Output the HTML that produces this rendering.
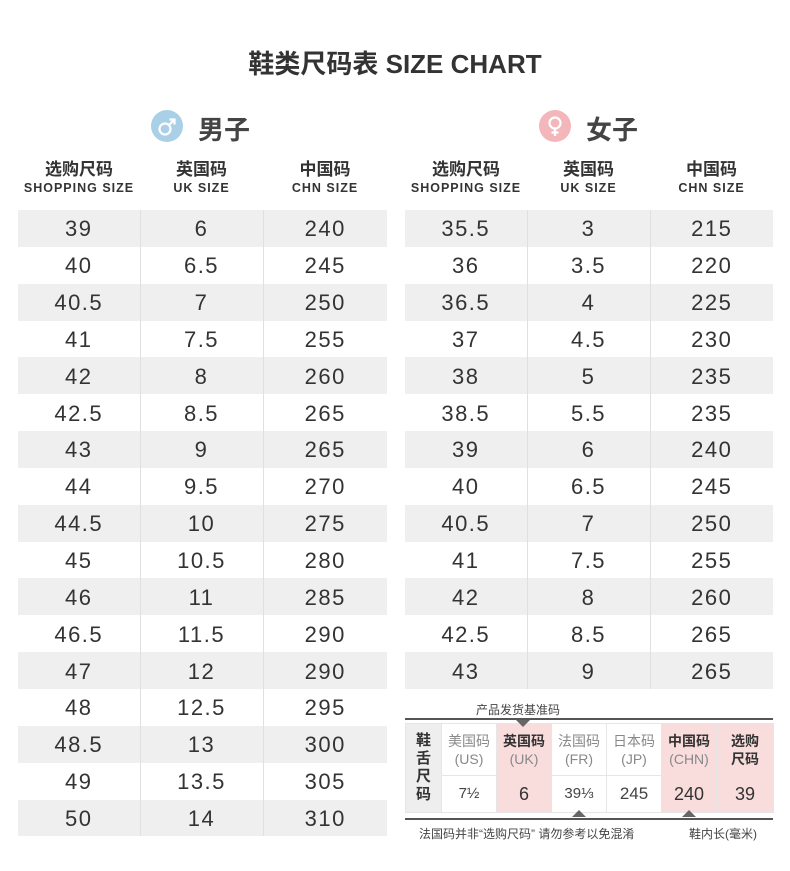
<!DOCTYPE html>
<html><head><meta charset="utf-8"><style>
*{margin:0;padding:0;box-sizing:border-box}
body{width:790px;height:871px;background:#fff;position:relative;font-family:"Liberation Sans","Noto Sans CJK SC",sans-serif;color:#333;overflow:hidden}
.abs{position:absolute}
.title{left:0;width:790px;top:44px;text-align:center;font-size:26px;font-weight:bold;color:#333}
.hd{text-align:center;font-weight:bold;color:#333}
.hd .c{font-size:17px;line-height:20px}
.hd .e{font-size:12.5px;letter-spacing:1px;line-height:16px}
table.t{position:absolute;border-collapse:collapse;table-layout:fixed}
table.t td{height:36.85px;text-align:center;font-size:22px;letter-spacing:1.5px;color:#333;border-right:1px solid #e0e0e0;padding-top:2px}
table.t tr:nth-child(odd) td{background:#efefef}
table.t td:last-child{border-right:none}
.b td{border:1px solid #e6e6e6;text-align:center;color:#888;font-size:14px;line-height:18px}
.p{background:#f9dcdc}
.tri{z-index:5}
</style></head><body>
<div class="abs title">鞋类尺码表 SIZE CHART</div>

<svg class="abs" style="left:150px;top:109px" width="34" height="34"><circle cx="17" cy="17" r="16" fill="#a9d0e7"/><circle cx="15" cy="20" r="5.5" fill="none" stroke="#fff" stroke-width="2.2"/><path d="M19 16 L24 11 M19.5 10.5 H24.5 V15.5" stroke="#fff" stroke-width="2.2" fill="none"/></svg>
<div class="abs" style="left:198px;top:110px;font-size:26px;font-weight:bold;color:#444">男子</div>
<svg class="abs" style="left:538px;top:109px" width="34" height="34"><circle cx="17" cy="17" r="16" fill="#f3b7bb"/><circle cx="17" cy="14" r="5.5" fill="none" stroke="#fff" stroke-width="2.2"/><path d="M17 19.5 V27 M13.5 23.5 H20.5" stroke="#fff" stroke-width="2.2"/></svg>
<div class="abs" style="left:586px;top:110px;font-size:26px;font-weight:bold;color:#444">女子</div>

<div class="abs hd" style="left:18px;width:122px;top:160px"><div class="c">选购尺码</div><div class="e">SHOPPING SIZE</div></div>
<div class="abs hd" style="left:140px;width:123px;top:160px"><div class="c">英国码</div><div class="e">UK SIZE</div></div>
<div class="abs hd" style="left:263px;width:124px;top:160px"><div class="c">中国码</div><div class="e">CHN SIZE</div></div>
<div class="abs hd" style="left:405px;width:122px;top:160px"><div class="c">选购尺码</div><div class="e">SHOPPING SIZE</div></div>
<div class="abs hd" style="left:527px;width:123px;top:160px"><div class="c">英国码</div><div class="e">UK SIZE</div></div>
<div class="abs hd" style="left:650px;width:123px;top:160px"><div class="c">中国码</div><div class="e">CHN SIZE</div></div>

<table class="t" style="left:18px;top:210px;width:369px">
<colgroup><col style="width:122px"><col style="width:123px"><col style="width:124px"></colgroup>
<tr><td>39</td><td>6</td><td>240</td></tr>
<tr><td>40</td><td>6.5</td><td>245</td></tr>
<tr><td>40.5</td><td>7</td><td>250</td></tr>
<tr><td>41</td><td>7.5</td><td>255</td></tr>
<tr><td>42</td><td>8</td><td>260</td></tr>
<tr><td>42.5</td><td>8.5</td><td>265</td></tr>
<tr><td>43</td><td>9</td><td>265</td></tr>
<tr><td>44</td><td>9.5</td><td>270</td></tr>
<tr><td>44.5</td><td>10</td><td>275</td></tr>
<tr><td>45</td><td>10.5</td><td>280</td></tr>
<tr><td>46</td><td>11</td><td>285</td></tr>
<tr><td>46.5</td><td>11.5</td><td>290</td></tr>
<tr><td>47</td><td>12</td><td>290</td></tr>
<tr><td>48</td><td>12.5</td><td>295</td></tr>
<tr><td>48.5</td><td>13</td><td>300</td></tr>
<tr><td>49</td><td>13.5</td><td>305</td></tr>
<tr><td>50</td><td>14</td><td>310</td></tr>
</table>

<table class="t" style="left:405px;top:210px;width:368px">
<colgroup><col style="width:122px"><col style="width:123px"><col style="width:123px"></colgroup>
<tr><td>35.5</td><td>3</td><td>215</td></tr>
<tr><td>36</td><td>3.5</td><td>220</td></tr>
<tr><td>36.5</td><td>4</td><td>225</td></tr>
<tr><td>37</td><td>4.5</td><td>230</td></tr>
<tr><td>38</td><td>5</td><td>235</td></tr>
<tr><td>38.5</td><td>5.5</td><td>235</td></tr>
<tr><td>39</td><td>6</td><td>240</td></tr>
<tr><td>40</td><td>6.5</td><td>245</td></tr>
<tr><td>40.5</td><td>7</td><td>250</td></tr>
<tr><td>41</td><td>7.5</td><td>255</td></tr>
<tr><td>42</td><td>8</td><td>260</td></tr>
<tr><td>42.5</td><td>8.5</td><td>265</td></tr>
<tr><td>43</td><td>9</td><td>265</td></tr>
</table>

<div class="abs" style="left:476px;top:701px;font-size:12px;color:#444">产品发货基准码</div>
<div class="abs" style="left:405px;top:718px;width:368px;height:2px;background:#555"></div>
<table class="abs b" style="left:405px;top:723px;width:368px;border-collapse:collapse;table-layout:fixed">
<colgroup><col style="width:36px"><col style="width:55px"><col style="width:55px"><col style="width:55px"><col style="width:55px"><col style="width:55px"><col style="width:57px"></colgroup>
<tr style="height:52px"><td rowspan="2" style="background:#eee;color:#333;font-weight:bold;font-size:15px;line-height:18px">鞋<br>舌<br>尺<br>码</td><td>美国码<br>(US)</td><td class="p"><b style="color:#333">英国码</b><br>(UK)</td><td>法国码<br>(FR)</td><td>日本码<br>(JP)</td><td class="p"><b style="color:#333">中国码</b><br>(CHN)</td><td class="p" style="color:#333;font-weight:bold">选购<br>尺码</td></tr>
<tr style="height:37px"><td style="font-size:15px;color:#444">7½</td><td class="p" style="font-size:18px;color:#333">6</td><td style="font-size:15px;color:#444">39⅓</td><td style="font-size:17px;color:#444">245</td><td class="p" style="font-size:18px;color:#333">240</td><td class="p" style="font-size:18px;color:#333">39</td></tr>
</table>
<div class="abs tri" style="left:516px;top:720px;width:0;height:0;border-left:7px solid transparent;border-right:7px solid transparent;border-top:7px solid #666"></div>
<div class="abs tri" style="left:572px;top:810px;width:0;height:0;border-left:7px solid transparent;border-right:7px solid transparent;border-bottom:7px solid #666"></div>
<div class="abs tri" style="left:682px;top:810px;width:0;height:0;border-left:7px solid transparent;border-right:7px solid transparent;border-bottom:7px solid #666"></div>
<div class="abs" style="left:405px;top:818px;width:368px;height:2px;background:#555"></div>
<div class="abs" style="left:419px;top:825px;font-size:12px;color:#444">法国码并非“选购尺码” 请勿参考以免混淆</div>
<div class="abs" style="left:689px;top:825px;font-size:12px;color:#444">鞋内长(毫米)</div>
</body></html>
